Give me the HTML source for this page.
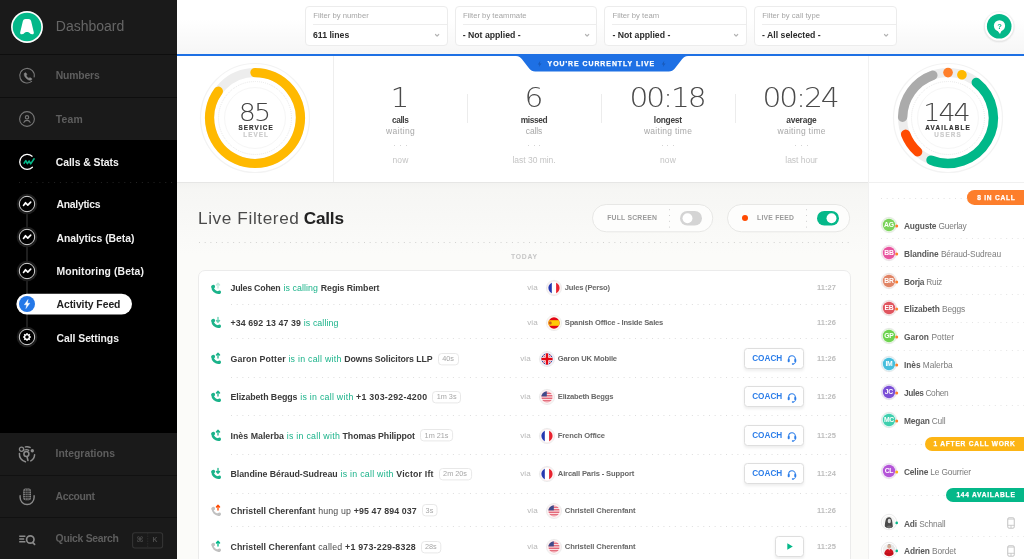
<!DOCTYPE html>
<html><head><meta charset="utf-8"><title>Activity Feed</title>
<style>
html,body{margin:0;padding:0;overflow:hidden}
body{width:1024px;height:559px;overflow:hidden;position:relative;background:#fbfbf9;font-family:"Liberation Sans", sans-serif;-webkit-font-smoothing:antialiased}
div{box-sizing:border-box}
svg{position:absolute;overflow:visible}
</style></head><body><div id="app" style="position:absolute;left:0;top:0;width:1024px;height:559px;overflow:hidden;will-change:transform">
<div id="side" style="position:absolute;left:0;top:0;width:177px;height:559px;background:#1a1a1a;overflow:hidden">
<div style="position:absolute;left:0px;top:140px;width:177px;height:293px;background:#000"></div>
<div style="position:absolute;left:0px;top:54px;width:177px;height:1px;background:#0e0e0e"></div>
<div style="position:absolute;left:0px;top:97px;width:177px;height:1px;background:#0e0e0e"></div>
<div style="position:absolute;left:0px;top:475px;width:177px;height:1px;background:#111"></div>
<div style="position:absolute;left:0px;top:517px;width:177px;height:1px;background:#111"></div>
<svg style="left:7.250px;top:6.650px" width="40" height="40" viewBox="-20 -20 40 40"><circle r="15.950" fill="#fff"/><circle r="14.300" fill="#04b889"/><path d="M-1.500-8.100H1.500C3-8.100 3.700-7.300 4.100-6L6.800 5.200C7.100 6.600 6.300 7.500 5 7.200L3.300 6.700C2.600 5.700 1.400 5.100 0 5.100S-2.600 5.700-3.300 6.700L-5 7.200C-6.300 7.500-7.100 6.600-6.800 5.200L-4.100-6C-3.700-7.300-3-8.100-1.500-8.100Z" fill="#fff"/></svg>
<div style="position:absolute;top:15.60px;line-height:20px;font-size:14px;font-weight:400;color:#666;white-space:nowrap;left:55.80px;">Dashboard</div>
<svg style="left:19px;top:68px" width="16" height="16" viewBox="0 0 16 16" fill="none" stroke="#777" stroke-width="1.1" stroke-linecap="round"><path d="M12.6 13.4A7.300 7.300 0 1 1 15.200 9"/><path d="M5.600 5.200c.5-.7 1.200-.7 1.600 0l.5.900c.2.400.1.800-.2 1.100-.3.300-.3.600 0 1 .5.700 1.100 1.300 1.800 1.800.4.300.7.300 1 0 .3-.3.700-.4 1.100-.2l.9.5c.7.400.7 1.100 0 1.600-.9.600-2 .5-3.100-.1-1.500-.9-2.700-2.100-3.500-3.500-.6-1.100-.7-2.200-.1-3.100z" fill="#888" stroke="#888" stroke-width=".5"/></svg>
<div style="position:absolute;top:65.60px;line-height:20px;font-size:10.4px;font-weight:700;color:#5e5e5e;white-space:nowrap;letter-spacing:-0.18px;left:55.80px;">Numbers</div>
<svg style="left:19px;top:111px" width="16" height="16" viewBox="0 0 16 16" fill="none" stroke="#777" stroke-width="1.1" stroke-linecap="round"><circle cx="8" cy="8" r="7.400"/><circle cx="8" cy="6.300" r="1.700"/><path d="M4.900 11.400c.5-1.500 1.700-2 3.100-2s2.600.5 3.100 2"/></svg>
<div style="position:absolute;top:109.50px;line-height:20px;font-size:10.4px;font-weight:700;color:#5e5e5e;white-space:nowrap;letter-spacing:0.201px;left:55.80px;">Team</div>
<svg style="left:19px;top:153.500px" width="16" height="16" viewBox="0 0 16 16" fill="none" stroke-linecap="round" stroke-linejoin="round"><path d="M13.100 2.200A7.500 7.500 0 1 0 13.400 13.300" stroke="#fff" stroke-width="1.300"/><path d="M5.100 9.200l1.700-2.600 1.600 3 1.700-2.600 1.600 2.900 3.400-5.100" stroke="#04b889" stroke-width="1.600"/></svg>
<div style="position:absolute;top:152.60px;line-height:20px;font-size:10.4px;font-weight:700;color:#f4f4f4;white-space:nowrap;letter-spacing:-0.048px;left:55.80px;">Calls &amp; Stats</div>
<svg style="left:18.7px;top:182px" width="158" height="1" viewBox="0 0 158 1"><path d="M0 .5H158" stroke="#242424" stroke-width="1" stroke-dasharray="1 4.85" fill="none"/></svg>
<div style="position:absolute;left:26px;top:204px;width:2px;height:134px;background:#1f1f1f"></div>
<svg style="left:16px;top:192.8px" width="22" height="22" viewBox="-3 -3 22 22"><circle cx="8" cy="8" r="10.300" fill="#1d1d1d"/><circle cx="8" cy="8" r="7.700" fill="#000" stroke="#d4d4d4" stroke-width="1"/><path d="M4.500 9.400l2-2.700 2.300 2.400 2.900-2.900" fill="none" stroke="#fff" stroke-width="1.650" stroke-linecap="round" stroke-linejoin="round"/></svg>
<div style="position:absolute;top:194.70px;line-height:20px;font-size:10.4px;font-weight:700;color:#f0f0f0;white-space:nowrap;letter-spacing:-0.28px;left:56.50px;">Analytics</div>
<svg style="left:16px;top:226.3px" width="22" height="22" viewBox="-3 -3 22 22"><circle cx="8" cy="8" r="10.300" fill="#1d1d1d"/><circle cx="8" cy="8" r="7.700" fill="#000" stroke="#d4d4d4" stroke-width="1"/><path d="M4.500 9.400l2-2.700 2.300 2.400 2.900-2.900" fill="none" stroke="#fff" stroke-width="1.650" stroke-linecap="round" stroke-linejoin="round"/></svg>
<div style="position:absolute;top:228.50px;line-height:20px;font-size:10.4px;font-weight:700;color:#f0f0f0;white-space:nowrap;letter-spacing:-0.04px;left:56.50px;">Analytics (Beta)</div>
<svg style="left:16px;top:259.8px" width="22" height="22" viewBox="-3 -3 22 22"><circle cx="8" cy="8" r="10.300" fill="#1d1d1d"/><circle cx="8" cy="8" r="7.700" fill="#000" stroke="#d4d4d4" stroke-width="1"/><path d="M4.500 9.400l2-2.700 2.300 2.400 2.900-2.900" fill="none" stroke="#fff" stroke-width="1.650" stroke-linecap="round" stroke-linejoin="round"/></svg>
<div style="position:absolute;top:261.80px;line-height:20px;font-size:10.4px;font-weight:700;color:#f0f0f0;white-space:nowrap;letter-spacing:0.089px;left:56.50px;">Monitoring (Beta)</div>
<svg style="left:16px;top:293px" width="117" height="22" viewBox="0 0 117 22"><rect x=".4" y=".7" width="115.600" height="20.800" rx="10.400" fill="#fff"/></svg>
<svg style="left:19px;top:296.3px" width="16" height="16" viewBox="0 0 16 16"><circle cx="8" cy="8" r="8" fill="#2478e8"/><path d="M9.100 3.500L5.300 8.800h2.400l-.8 3.800 3.900-5.400H8.400z" fill="#fff" stroke="#fff" stroke-width=".4" stroke-linejoin="round"/></svg>
<div style="position:absolute;top:295.30px;line-height:20px;font-size:10.4px;font-weight:700;color:#222;white-space:nowrap;letter-spacing:-0.061px;left:56.50px;">Activity Feed</div>
<svg style="left:16px;top:326.4px" width="22" height="22" viewBox="-3 -3 22 22"><circle cx="8" cy="8" r="10.300" fill="#1d1d1d"/><circle cx="8" cy="8" r="7.700" fill="#000" stroke="#d4d4d4" stroke-width="1"/><g transform="translate(8 8) scale(.78)" fill="#fff"><circle r="3.100" fill="none" stroke="#fff" stroke-width="1.700"/><rect x="-0.9" y="-5" width="1.800" height="2.200" rx=".4" transform="rotate(0)"/><rect x="-0.9" y="-5" width="1.800" height="2.200" rx=".4" transform="rotate(45)"/><rect x="-0.9" y="-5" width="1.800" height="2.200" rx=".4" transform="rotate(90)"/><rect x="-0.9" y="-5" width="1.800" height="2.200" rx=".4" transform="rotate(135)"/><rect x="-0.9" y="-5" width="1.800" height="2.200" rx=".4" transform="rotate(180)"/><rect x="-0.9" y="-5" width="1.800" height="2.200" rx=".4" transform="rotate(225)"/><rect x="-0.9" y="-5" width="1.800" height="2.200" rx=".4" transform="rotate(270)"/><rect x="-0.9" y="-5" width="1.800" height="2.200" rx=".4" transform="rotate(315)"/></g></svg>
<div style="position:absolute;top:328.90px;line-height:20px;font-size:10.4px;font-weight:700;color:#f0f0f0;white-space:nowrap;letter-spacing:-0.041px;left:56.50px;">Call Settings</div>
<svg style="left:18px;top:444.500px" width="18" height="18" viewBox="0 0 18 18" fill="none" stroke="#8c8c8c" stroke-width="1.500" stroke-linecap="round"><path d="M7.42 1.87A7.6 7.6 0 0 1 12.09 2.36"/><path d="M16.59 9.70A7.6 7.6 0 0 1 12.80 15.88"/><path d="M7.42 16.73A7.6 7.6 0 0 1 1.44 8.51"/><circle cx="3.500" cy="4.300" r="2.100" stroke-width="1.300"/><circle cx="14.300" cy="5.800" r="1.700" fill="#8c8c8c" stroke="none"/><circle cx="8.400" cy="9.100" r="2.500"/><path d="M9.100 11.800l.8 3.600" stroke-width="1.600"/><g stroke-width="1.200"><path d="M6.75 5.02A4.4 4.4 0 0 1 10.73 5.37"/></g></svg>
<div style="position:absolute;top:443.60px;line-height:20px;font-size:10.4px;font-weight:700;color:#5e5e5e;white-space:nowrap;letter-spacing:-0.011px;left:55.60px;">Integrations</div>
<svg style="left:18px;top:487px" width="18" height="20" viewBox="0 0 18 20" fill="none" stroke="#8a8a8a" stroke-width="1.400" stroke-linecap="round"><rect x="5.200" y="1.500" width="7.800" height="11.800" rx="2.400" fill="#8a8a8a" stroke="none"/><path d="M7.300 2v11M9.100 1.600v11.600M10.900 2v11M5.400 4.300h7.400M5.400 6.400h7.400M5.400 8.500h7.400M5.400 10.600h7.400" stroke="#1a1a1a" stroke-width=".7" stroke-linecap="butt"/><path d="M2.100 8.700v1.800a7 7 0 0 0 14 0v-1.800"/></svg>
<div style="position:absolute;top:487.20px;line-height:20px;font-size:10.4px;font-weight:700;color:#5e5e5e;white-space:nowrap;letter-spacing:-0.367px;left:55.60px;">Account</div>
<svg style="left:19px;top:534px" width="18" height="12" viewBox="0 0 18 12" fill="none" stroke="#8a8a8a" stroke-width="1.600"><path d="M.2 2.300h6.200M.2 5h5M.2 7.700h6.200" stroke-width="1.400"/><circle cx="11.300" cy="5.500" r="3.700" stroke-width="1.700"/><path d="M13.600 8.300l2 2" stroke-linecap="round" stroke-width="1.700"/></svg>
<div style="position:absolute;top:528.60px;line-height:20px;font-size:10.4px;font-weight:700;color:#5e5e5e;white-space:nowrap;letter-spacing:-0.28px;left:55.60px;">Quick Search</div>
<svg style="left:132px;top:532px" width="32" height="17" viewBox="0 0 32 17"><rect x=".6" y=".7" width="30" height="15.300" rx="2.200" fill="none" stroke="#343434" stroke-width="1.100"/><path d="M15.700 1v15" stroke="#2c2c2c" stroke-width="1" stroke-dasharray="1.500 1"/></svg>
<div style="position:absolute;top:530.30px;line-height:20px;font-size:7.5px;font-weight:700;color:#4e4e4e;white-space:nowrap;left:-60.10px;width:400px;text-align:center;font-family:&quot;DejaVu Sans&quot;,sans-serif;">⌘</div>
<div style="position:absolute;top:530.30px;line-height:20px;font-size:6.8px;font-weight:700;color:#4e4e4e;white-space:nowrap;left:-45.00px;width:400px;text-align:center;">K</div>
</div>
<div style="position:absolute;left:177px;top:0px;width:847px;height:54px;background:linear-gradient(180deg,#fff 0%,#fff 35%,#f6f6f6 100%)"></div>
<div style="position:absolute;left:305.0px;top:6px;width:142.5px;height:39.5px;background:#fff;border:1px solid #ececec;border-radius:4px"></div>
<div style="position:absolute;left:313.0px;top:24px;width:134px;height:1px;background:#ededed"></div>
<div style="position:absolute;top:6.20px;line-height:20px;font-size:7.7px;font-weight:400;color:#a6a6a6;white-space:nowrap;left:313.20px;">Filter by number</div>
<div style="position:absolute;top:25.00px;line-height:20px;font-size:8.7px;font-weight:700;color:#2a2a2a;white-space:nowrap;left:313.00px;">611 lines</div>
<svg style="left:435.0px;top:33.500px" width="4.200" height="2.800" viewBox="0 0 6 4" fill="none" stroke="#b4b4b4" stroke-width="1.700" stroke-linecap="round" stroke-linejoin="round"><path d="M.7.700L3 3.100 5.300.7"/></svg>
<div style="position:absolute;left:454.7px;top:6px;width:142.5px;height:39.5px;background:#fff;border:1px solid #ececec;border-radius:4px"></div>
<div style="position:absolute;left:462.7px;top:24px;width:134px;height:1px;background:#ededed"></div>
<div style="position:absolute;top:6.20px;line-height:20px;font-size:7.7px;font-weight:400;color:#a6a6a6;white-space:nowrap;left:462.90px;">Filter by teammate</div>
<div style="position:absolute;top:25.00px;line-height:20px;font-size:8.7px;font-weight:700;color:#2a2a2a;white-space:nowrap;left:462.70px;">- Not applied -</div>
<svg style="left:584.7px;top:33.500px" width="4.200" height="2.800" viewBox="0 0 6 4" fill="none" stroke="#b4b4b4" stroke-width="1.700" stroke-linecap="round" stroke-linejoin="round"><path d="M.7.700L3 3.100 5.300.7"/></svg>
<div style="position:absolute;left:604.4px;top:6px;width:142.5px;height:39.5px;background:#fff;border:1px solid #ececec;border-radius:4px"></div>
<div style="position:absolute;left:612.4px;top:24px;width:134px;height:1px;background:#ededed"></div>
<div style="position:absolute;top:6.20px;line-height:20px;font-size:7.7px;font-weight:400;color:#a6a6a6;white-space:nowrap;left:612.60px;">Filter by team</div>
<div style="position:absolute;top:25.00px;line-height:20px;font-size:8.7px;font-weight:700;color:#2a2a2a;white-space:nowrap;left:612.40px;">- Not applied -</div>
<svg style="left:734.4px;top:33.500px" width="4.200" height="2.800" viewBox="0 0 6 4" fill="none" stroke="#b4b4b4" stroke-width="1.700" stroke-linecap="round" stroke-linejoin="round"><path d="M.7.700L3 3.100 5.300.7"/></svg>
<div style="position:absolute;left:754.0999999999999px;top:6px;width:142.5px;height:39.5px;background:#fff;border:1px solid #ececec;border-radius:4px"></div>
<div style="position:absolute;left:762.0999999999999px;top:24px;width:134px;height:1px;background:#ededed"></div>
<div style="position:absolute;top:6.20px;line-height:20px;font-size:7.7px;font-weight:400;color:#a6a6a6;white-space:nowrap;left:762.30px;">Filter by call type</div>
<div style="position:absolute;top:25.00px;line-height:20px;font-size:8.7px;font-weight:700;color:#2a2a2a;white-space:nowrap;left:762.10px;">- All selected -</div>
<svg style="left:884.0999999999999px;top:33.500px" width="4.200" height="2.800" viewBox="0 0 6 4" fill="none" stroke="#b4b4b4" stroke-width="1.700" stroke-linecap="round" stroke-linejoin="round"><path d="M.7.700L3 3.100 5.300.7"/></svg>
<svg style="left:983px;top:10px" width="32" height="32" viewBox="0 0 32 32"><circle cx="16.200" cy="17" r="16.200" fill="#000" opacity=".025"/><circle cx="16.200" cy="16.800" r="15.400" fill="#000" opacity=".05"/><circle cx="16.200" cy="16.300" r="14.300" fill="#fff"/><circle cx="16.200" cy="16.300" r="12.300" fill="#04b889"/><circle cx="16.500" cy="15.800" r="5.600" fill="#fff"/><path d="M14.400 20.500L17 23.900 18.600 20.500z" fill="#fff"/><text x="16.600" y="18.500" font-size="7.600" font-weight="700" fill="#04b889" text-anchor="middle" font-family="Liberation Sans, sans-serif">?</text></svg>
<div style="position:absolute;left:177px;top:56px;width:847px;height:126px;background:#fff"></div>
<div style="position:absolute;left:177px;top:182px;width:692px;height:1px;background:#e6e6e5"></div>
<div style="position:absolute;left:177px;top:183px;width:692px;height:70px;background:linear-gradient(180deg,#f3f3f1 0%,#f6f6f4 10%,#fbfbf9 100%)"></div>
<div style="position:absolute;left:177px;top:54px;width:847px;height:2px;background:#1e70e4"></div>
<svg style="left:515px;top:55.500px" width="174" height="17" viewBox="515 55.500 174 17"><path d="M515 55.500H688c-3 .3-4.500 1.300-6 3.300l-7.200 9.200c-1.600 2.100-3.400 3-6 3H535.200c-2.600 0-4.400-.9-6-3l-7.200-9.200c-1.500-2-3-3-6-3.300z" fill="#1e70e4"/><path d="M540.300 60.300l-2.500 3.600h1.600l-.5 2.700 2.600-3.700h-1.700z" fill="#1859b8"/><path d="M664.300 60.300l-2.500 3.600h1.600l-.5 2.700 2.600-3.700h-1.700z" fill="#1859b8"/></svg>
<div style="position:absolute;top:53.50px;line-height:20px;font-size:6.9px;font-weight:700;color:#fff;white-space:nowrap;letter-spacing:0.98px;left:401.40px;width:400px;text-align:center;-webkit-text-stroke:.25px #fff;">YOU'RE CURRENTLY LIVE</div>
<div style="position:absolute;left:333px;top:56px;width:1px;height:126px;background:#eeeeee"></div>
<div style="position:absolute;left:868px;top:56px;width:1px;height:503px;background:#f1f1f1"></div>
<div style="position:absolute;left:467px;top:94px;width:1px;height:29px;background:#ececec"></div>
<div style="position:absolute;left:601px;top:94px;width:1px;height:29px;background:#ececec"></div>
<div style="position:absolute;left:735px;top:94px;width:1px;height:29px;background:#ececec"></div>
<svg style="left:195px;top:57.900000000000006px" width="120" height="120" viewBox="195 57.900000000000006 120 120"><circle cx="255" cy="117.9" r="54.500" fill="none" stroke="#f3f3f3" stroke-width="1.200"/><circle cx="255" cy="117.9" r="45.4" fill="none" stroke="#ededed" stroke-width="9"/><circle cx="255" cy="117.9" r="36.500" fill="none" stroke="#e4e4e4" stroke-width="1" stroke-dasharray="0.8 1.200"/><circle cx="255" cy="117.9" r="30.500" fill="none" stroke="#f6f6f6" stroke-width="1"/><path d="M255.00 72.50A45.4 45.4 0 1 1 218.27 91.21" fill="none" stroke="#ffb900" stroke-width="9.4" stroke-linecap="round"/></svg>
<div style="position:absolute;top:98.00px;line-height:30px;font-size:24.5px;font-weight:200;color:#444;white-space:nowrap;left:53.70px;width:400px;text-align:center;font-family:&quot;DejaVu Sans&quot;,sans-serif;font-weight:200;letter-spacing:-1.800px;transform:scaleX(1.1);">85</div>
<div style="position:absolute;top:117.80px;line-height:20px;font-size:6.3px;font-weight:700;color:#333;white-space:nowrap;letter-spacing:1.1px;left:55.50px;width:400px;text-align:center;padding-left:1.200px;-webkit-text-stroke:.2px currentColor;">SERVICE</div>
<div style="position:absolute;top:124.90px;line-height:20px;font-size:6.3px;font-weight:700;color:#cbcbcb;white-space:nowrap;letter-spacing:1.1px;left:55.50px;width:400px;text-align:center;padding-left:1.200px;-webkit-text-stroke:.2px currentColor;">LEVEL</div>
<svg style="left:888px;top:57.900000000000006px" width="120" height="120" viewBox="888 57.900000000000006 120 120"><circle cx="948" cy="117.9" r="54.500" fill="none" stroke="#f3f3f3" stroke-width="1.200"/><circle cx="948" cy="117.9" r="45.4" fill="none" stroke="#ededed" stroke-width="9"/><circle cx="948" cy="117.9" r="36.500" fill="none" stroke="#e4e4e4" stroke-width="1" stroke-dasharray="0.8 1.200"/><circle cx="948" cy="117.9" r="30.500" fill="none" stroke="#f6f6f6" stroke-width="1"/><path d="M948.00 72.50A45.4 45.4 0 0 1 948.08 72.50" fill="none" stroke="#ff7f2a" stroke-width="9.6" stroke-linecap="round"/><path d="M961.88 74.67A45.4 45.4 0 0 1 961.95 74.70" fill="none" stroke="#ffb900" stroke-width="9.6" stroke-linecap="round"/><path d="M976.26 82.37A45.4 45.4 0 0 1 930.99 159.99" fill="none" stroke="#00b889" stroke-width="9.4" stroke-linecap="round"/><path d="M917.62 151.64A45.4 45.4 0 0 1 905.62 134.17" fill="none" stroke="#ff4a00" stroke-width="9.4" stroke-linecap="round"/><path d="M902.61 117.11A45.4 45.4 0 0 1 932.85 75.10" fill="none" stroke="#ababab" stroke-width="9.4" stroke-linecap="round"/></svg>
<div style="position:absolute;top:97.70px;line-height:30px;font-size:24.5px;font-weight:200;color:#444;white-space:nowrap;left:745.50px;width:400px;text-align:center;font-family:&quot;DejaVu Sans&quot;,sans-serif;font-weight:200;letter-spacing:-1.800px;transform:scaleX(1.1);">144</div>
<div style="position:absolute;top:118.00px;line-height:20px;font-size:6.3px;font-weight:700;color:#333;white-space:nowrap;letter-spacing:1.15px;left:747.50px;width:400px;text-align:center;padding-left:1.200px;-webkit-text-stroke:.2px currentColor;">AVAILABLE</div>
<div style="position:absolute;top:125.00px;line-height:20px;font-size:6.3px;font-weight:700;color:#cbcbcb;white-space:nowrap;letter-spacing:1.2px;left:747.50px;width:400px;text-align:center;padding-left:1.200px;-webkit-text-stroke:.2px currentColor;">USERS</div>
<div style="position:absolute;top:79.60px;line-height:36px;font-size:27px;font-weight:200;color:#4a4a4a;white-space:nowrap;left:200.40px;width:400px;text-align:center;font-family:&quot;DejaVu Sans&quot;,sans-serif;font-weight:200;letter-spacing:0px;transform:scaleX(1.1);">1</div>
<div style="position:absolute;top:109.60px;line-height:20px;font-size:8.4px;font-weight:700;color:#404040;white-space:nowrap;letter-spacing:-0.421px;left:200.19px;width:400px;text-align:center;">calls</div>
<div style="position:absolute;top:120.50px;line-height:20px;font-size:8.5px;font-weight:400;color:#a8a8a8;white-space:nowrap;letter-spacing:0.374px;left:200.59px;width:400px;text-align:center;">waiting</div>
<div style="position:absolute;left:394.2px;top:144.6px;width:1px;height:1px;background:#d4d4d4"></div>
<div style="position:absolute;left:399.9px;top:144.6px;width:1px;height:1px;background:#d4d4d4"></div>
<div style="position:absolute;left:405.59999999999997px;top:144.6px;width:1px;height:1px;background:#d4d4d4"></div>
<div style="position:absolute;top:149.90px;line-height:20px;font-size:8.5px;font-weight:400;color:#c4c4c4;white-space:nowrap;letter-spacing:0.203px;left:200.50px;width:400px;text-align:center;">now</div>
<div style="position:absolute;top:79.60px;line-height:36px;font-size:27px;font-weight:200;color:#4a4a4a;white-space:nowrap;left:334.10px;width:400px;text-align:center;font-family:&quot;DejaVu Sans&quot;,sans-serif;font-weight:200;letter-spacing:0px;transform:scaleX(1.1);">6</div>
<div style="position:absolute;top:109.60px;line-height:20px;font-size:8.4px;font-weight:700;color:#404040;white-space:nowrap;letter-spacing:-0.41px;left:333.90px;width:400px;text-align:center;">missed</div>
<div style="position:absolute;top:120.50px;line-height:20px;font-size:8.5px;font-weight:400;color:#a8a8a8;white-space:nowrap;letter-spacing:-0.126px;left:334.04px;width:400px;text-align:center;">calls</div>
<div style="position:absolute;left:527.9px;top:144.6px;width:1px;height:1px;background:#d4d4d4"></div>
<div style="position:absolute;left:533.6px;top:144.6px;width:1px;height:1px;background:#d4d4d4"></div>
<div style="position:absolute;left:539.3000000000001px;top:144.6px;width:1px;height:1px;background:#d4d4d4"></div>
<div style="position:absolute;top:149.90px;line-height:20px;font-size:8.5px;font-weight:400;color:#c4c4c4;white-space:nowrap;letter-spacing:-0.024px;left:334.09px;width:400px;text-align:center;">last 30 min.</div>
<div style="position:absolute;top:79.60px;line-height:36px;font-size:27px;font-weight:200;color:#4a4a4a;white-space:nowrap;left:466.86px;width:400px;text-align:center;font-family:&quot;DejaVu Sans&quot;,sans-serif;font-weight:200;letter-spacing:-1.9px;transform:scaleX(1.1);">00:18</div>
<div style="position:absolute;top:109.60px;line-height:20px;font-size:8.4px;font-weight:700;color:#404040;white-space:nowrap;letter-spacing:-0.278px;left:467.76px;width:400px;text-align:center;">longest</div>
<div style="position:absolute;top:120.50px;line-height:20px;font-size:8.5px;font-weight:400;color:#a8a8a8;white-space:nowrap;letter-spacing:0.284px;left:468.04px;width:400px;text-align:center;">waiting time</div>
<div style="position:absolute;left:661.6999999999999px;top:144.6px;width:1px;height:1px;background:#d4d4d4"></div>
<div style="position:absolute;left:667.4px;top:144.6px;width:1px;height:1px;background:#d4d4d4"></div>
<div style="position:absolute;left:673.1px;top:144.6px;width:1px;height:1px;background:#d4d4d4"></div>
<div style="position:absolute;top:149.90px;line-height:20px;font-size:8.5px;font-weight:400;color:#c4c4c4;white-space:nowrap;letter-spacing:0.153px;left:467.98px;width:400px;text-align:center;">now</div>
<div style="position:absolute;top:79.60px;line-height:36px;font-size:27px;font-weight:200;color:#4a4a4a;white-space:nowrap;left:600.46px;width:400px;text-align:center;font-family:&quot;DejaVu Sans&quot;,sans-serif;font-weight:200;letter-spacing:-1.9px;transform:scaleX(1.1);">00:24</div>
<div style="position:absolute;top:109.60px;line-height:20px;font-size:8.4px;font-weight:700;color:#404040;white-space:nowrap;letter-spacing:-0.193px;left:601.40px;width:400px;text-align:center;">average</div>
<div style="position:absolute;top:120.50px;line-height:20px;font-size:8.5px;font-weight:400;color:#a8a8a8;white-space:nowrap;letter-spacing:0.284px;left:601.64px;width:400px;text-align:center;">waiting time</div>
<div style="position:absolute;left:795.3px;top:144.6px;width:1px;height:1px;background:#d4d4d4"></div>
<div style="position:absolute;left:801.0px;top:144.6px;width:1px;height:1px;background:#d4d4d4"></div>
<div style="position:absolute;left:806.7px;top:144.6px;width:1px;height:1px;background:#d4d4d4"></div>
<div style="position:absolute;top:149.90px;line-height:20px;font-size:8.5px;font-weight:400;color:#c4c4c4;white-space:nowrap;letter-spacing:-0.025px;left:601.49px;width:400px;text-align:center;">last hour</div>
<div style="position:absolute;left:198.00px;top:204.30px;line-height:28px;font-size:17.2px;font-weight:400;color:#4a4a4a;white-space:nowrap;letter-spacing:0.609px">Live Filtered</div>
<div style="position:absolute;left:303.80px;top:204.30px;line-height:28px;font-size:17.2px;font-weight:700;color:#222;white-space:nowrap;letter-spacing:-0.228px">Calls</div>
<svg style="left:592px;top:204px" width="121.3" height="29" viewBox="0 0 121.3 29"><rect x=".5" y=".5" width="120.3" height="27.300" rx="13.650" fill="#fdfdfc" stroke="#e7e7e5"/></svg>
<div style="position:absolute;top:207.80px;line-height:20px;font-size:6.8px;font-weight:700;color:#9a9a9a;white-space:nowrap;letter-spacing:0.23px;left:607.20px;">FULL SCREEN</div>
<svg style="left:669px;top:209px" width="1" height="20" viewBox="0 0 1 20"><path d="M.5 .2V20" stroke="#cfcfcf" stroke-width="1" stroke-dasharray="1 4.800" fill="none"/></svg>
<svg style="left:680px;top:210.900px" width="22" height="15" viewBox="0 0 22 15"><rect width="22" height="14.500" rx="7.250" fill="#d4d4d4"/><circle cx="7.5" cy="7.250" r="4.950" fill="#fff"/></svg>
<svg style="left:727.2px;top:204px" width="123.2" height="29" viewBox="0 0 123.2 29"><rect x=".5" y=".5" width="122.2" height="27.300" rx="13.650" fill="#fdfdfc" stroke="#e7e7e5"/></svg>
<div style="position:absolute;left:742.2px;top:215.2px;width:5.8px;height:5.8px;background:#ff4a00;border-radius:3px"></div>
<div style="position:absolute;top:207.80px;line-height:20px;font-size:6.8px;font-weight:700;color:#9a9a9a;white-space:nowrap;letter-spacing:0.23px;left:757.00px;">LIVE FEED</div>
<svg style="left:805.7px;top:209px" width="1" height="20" viewBox="0 0 1 20"><path d="M.5 .2V20" stroke="#cfcfcf" stroke-width="1" stroke-dasharray="1 4.800" fill="none"/></svg>
<svg style="left:816.9px;top:210.900px" width="22" height="15" viewBox="0 0 22 15"><rect width="22" height="14.500" rx="7.250" fill="#04b889"/><circle cx="14.5" cy="7.250" r="4.950" fill="#fff"/></svg>
<svg style="left:198.5px;top:242px" width="651" height="1" viewBox="0 0 651 1"><path d="M0 .5H651" stroke="#d2d2d0" stroke-width="1" stroke-dasharray="1 4.69" fill="none"/></svg>
<div style="position:absolute;top:247.10px;line-height:20px;font-size:6.8px;font-weight:700;color:#c6c6c6;white-space:nowrap;letter-spacing:0.75px;left:324.00px;width:400px;text-align:center;padding-left:.7px;">TODAY</div>
<div style="position:absolute;left:197.5px;top:270px;width:653.5px;height:300px;background:#fff;border:1px solid #ebebeb;border-radius:7px"></div>
<svg style="left:230.5px;top:304px" width="618" height="1" viewBox="0 0 618 1"><path d="M0 .5H618" stroke="#dedede" stroke-width="1" stroke-dasharray="1 4.69" fill="none"/></svg>
<svg style="left:230.5px;top:338px" width="618" height="1" viewBox="0 0 618 1"><path d="M0 .5H618" stroke="#dedede" stroke-width="1" stroke-dasharray="1 4.69" fill="none"/></svg>
<svg style="left:230.5px;top:377px" width="618" height="1" viewBox="0 0 618 1"><path d="M0 .5H618" stroke="#dedede" stroke-width="1" stroke-dasharray="1 4.69" fill="none"/></svg>
<svg style="left:230.5px;top:415px" width="618" height="1" viewBox="0 0 618 1"><path d="M0 .5H618" stroke="#dedede" stroke-width="1" stroke-dasharray="1 4.69" fill="none"/></svg>
<svg style="left:230.5px;top:454px" width="618" height="1" viewBox="0 0 618 1"><path d="M0 .5H618" stroke="#dedede" stroke-width="1" stroke-dasharray="1 4.69" fill="none"/></svg>
<svg style="left:230.5px;top:493px" width="618" height="1" viewBox="0 0 618 1"><path d="M0 .5H618" stroke="#dedede" stroke-width="1" stroke-dasharray="1 4.69" fill="none"/></svg>
<svg style="left:230.5px;top:526px" width="618" height="1" viewBox="0 0 618 1"><path d="M0 .5H618" stroke="#dedede" stroke-width="1" stroke-dasharray="1 4.69" fill="none"/></svg>
<svg style="left:210.0px;top:280.5px" width="12" height="14" viewBox="0 0 12 14"><path d="M2.600 5.700C2.500 9 5.300 11.800 9.200 11.700" fill="none" stroke="#1bb38a" stroke-width="2.5" stroke-linecap="round"/><ellipse cx="3.200" cy="5.700" rx="1.900" ry="1.750" fill="#1bb38a" transform="rotate(-20 3.200 5.700)"/><ellipse cx="9.100" cy="11.300" rx="1.950" ry="1.700" fill="#1bb38a" transform="rotate(-15 9.100 11.300)"/><path d="M8 7.100V2.600M6.400 4L8 2.300 9.600 4" fill="none" stroke="#bfe9dc" stroke-width="1.300" stroke-linecap="round" stroke-linejoin="round"/></svg>
<div style="position:absolute;left:230.50px;top:277.90px;line-height:20px;font-size:8.8px;font-weight:700;color:#3a3a3a;white-space:nowrap;letter-spacing:-0.222px">Jules Cohen</div>
<div style="position:absolute;left:283.40px;top:277.90px;line-height:20px;font-size:8.8px;font-weight:400;color:#1bb38a;white-space:nowrap;letter-spacing:0.095px">is calling</div>
<div style="position:absolute;left:320.80px;top:277.90px;line-height:20px;font-size:8.8px;font-weight:700;color:#3a3a3a;white-space:nowrap;letter-spacing:-0.080px">Regis Rimbert</div>
<div style="position:absolute;top:277.90px;line-height:20px;font-size:8.1px;font-weight:400;color:#b8b8b8;white-space:nowrap;left:527.30px;">via</div>
<svg style="left:545.6px;top:280.3px" width="16" height="16" viewBox="-8 -8 16 16"><circle r="7.600" fill="#fff" stroke="#e9e9e9" stroke-width=".8"/><circle r="6.700" fill="none" stroke="#c33" stroke-width=".6" opacity=".13"/><clipPath id="fc553_288"><circle r="5.650"/></clipPath><g clip-path="url(#fc553_288)"><rect x="-6" y="-6" width="3.900" height="12" fill="#2438b0"/><rect x="-2.100" y="-6" width="4.200" height="12" fill="#fff"/><rect x="2.100" y="-6" width="3.900" height="12" fill="#e8222e"/></g></svg>
<div style="position:absolute;left:564.80px;top:277.90px;line-height:20px;font-size:7.6px;font-weight:700;color:#686868;white-space:nowrap;letter-spacing:-0.203px">Jules (Perso)</div>
<div style="position:absolute;top:277.90px;line-height:20px;font-size:7.5px;font-weight:700;color:#bdbdbd;white-space:nowrap;left:817.10px;">11:27</div>
<svg style="left:210.0px;top:314.7px" width="12" height="14" viewBox="0 0 12 14"><path d="M2.600 5.700C2.500 9 5.300 11.800 9.200 11.700" fill="none" stroke="#1bb38a" stroke-width="2.5" stroke-linecap="round"/><ellipse cx="3.200" cy="5.700" rx="1.900" ry="1.750" fill="#1bb38a" transform="rotate(-20 3.200 5.700)"/><ellipse cx="9.100" cy="11.300" rx="1.950" ry="1.700" fill="#1bb38a" transform="rotate(-15 9.100 11.300)"/><path d="M8 2.300v4.600M6.400 5.500L8 7.200 9.600 5.500" fill="none" stroke="#5fcfb0" stroke-width="1.300" stroke-linecap="round" stroke-linejoin="round"/></svg>
<div style="position:absolute;left:230.50px;top:313.10px;line-height:20px;font-size:8.8px;font-weight:700;color:#3a3a3a;white-space:nowrap;letter-spacing:0.116px">+34 692 13 47 39</div>
<div style="position:absolute;left:303.80px;top:313.10px;line-height:20px;font-size:8.8px;font-weight:400;color:#1bb38a;white-space:nowrap;letter-spacing:0.095px">is calling</div>
<div style="position:absolute;top:313.10px;line-height:20px;font-size:8.1px;font-weight:400;color:#b8b8b8;white-space:nowrap;left:527.30px;">via</div>
<svg style="left:545.6px;top:314.5px" width="16" height="16" viewBox="-8 -8 16 16"><circle r="7.600" fill="#fff" stroke="#e9e9e9" stroke-width=".8"/><circle r="6.700" fill="none" stroke="#e8a000" stroke-width=".6" opacity=".13"/><clipPath id="fc553_322"><circle r="5.650"/></clipPath><g clip-path="url(#fc553_322)"><rect x="-6" y="-6" width="12" height="12" fill="#e30613"/><rect x="-6" y="-2.800" width="12" height="5.600" fill="#ffcb05"/><rect x="-5.200" y="-1.500" width="2.800" height="3" rx="1" fill="#c8601a"/></g></svg>
<div style="position:absolute;left:564.80px;top:313.10px;line-height:20px;font-size:7.6px;font-weight:700;color:#686868;white-space:nowrap;letter-spacing:-0.189px">Spanish Office - Inside Sales</div>
<div style="position:absolute;top:313.10px;line-height:20px;font-size:7.5px;font-weight:700;color:#bdbdbd;white-space:nowrap;left:817.10px;">11:26</div>
<svg style="left:210.0px;top:351.0px" width="12" height="14" viewBox="0 0 12 14"><path d="M2.600 5.700C2.500 9 5.300 11.800 9.200 11.700" fill="none" stroke="#1bb38a" stroke-width="2.5" stroke-linecap="round"/><ellipse cx="3.200" cy="5.700" rx="1.900" ry="1.750" fill="#1bb38a" transform="rotate(-20 3.200 5.700)"/><ellipse cx="9.100" cy="11.300" rx="1.950" ry="1.700" fill="#1bb38a" transform="rotate(-15 9.100 11.300)"/><path d="M8 7.100V2.600M6.400 4L8 2.300 9.600 4" fill="none" stroke="#1bb38a" stroke-width="1.300" stroke-linecap="round" stroke-linejoin="round"/></svg>
<div style="position:absolute;left:230.50px;top:349.40px;line-height:20px;font-size:8.8px;font-weight:700;color:#3a3a3a;white-space:nowrap;letter-spacing:0.120px">Garon Potter</div>
<div style="position:absolute;left:288.40px;top:349.40px;line-height:20px;font-size:8.8px;font-weight:400;color:#1bb38a;white-space:nowrap;letter-spacing:0.258px">is in call with</div>
<div style="position:absolute;left:344.20px;top:349.40px;line-height:20px;font-size:8.8px;font-weight:700;color:#3a3a3a;white-space:nowrap;letter-spacing:-0.108px">Downs Solicitors LLP</div>
<svg style="left:437.6px;top:352.6px" width="21" height="13" viewBox="0 0 21 13"><rect x=".5" y=".5" width="20" height="11.400" rx="3.200" fill="#fff" stroke="#e8e8e8"/></svg>
<div style="position:absolute;top:349.30px;line-height:20px;font-size:7.3px;font-weight:400;color:#a6a6a6;white-space:nowrap;left:248.10px;width:400px;text-align:center;">40s</div>
<div style="position:absolute;top:349.40px;line-height:20px;font-size:8.1px;font-weight:400;color:#b8b8b8;white-space:nowrap;left:520.30px;">via</div>
<svg style="left:538.6px;top:350.8px" width="16" height="16" viewBox="-8 -8 16 16"><circle r="7.600" fill="#fff" stroke="#e9e9e9" stroke-width=".8"/><circle r="6.700" fill="none" stroke="#33a" stroke-width=".6" opacity=".13"/><clipPath id="fc546_358"><circle r="5.650"/></clipPath><g clip-path="url(#fc546_358)"><rect x="-6" y="-6" width="12" height="12" fill="#2a3c9a"/><path d="M-6-6L6 6M6-6L-6 6" stroke="#fff" stroke-width="1.800"/><path d="M-6-6L6 6M6-6L-6 6" stroke="#e30613" stroke-width=".6"/><path d="M0-6V6M-6 0H6" stroke="#fff" stroke-width="3.900"/><path d="M0-6V6M-6 0H6" stroke="#e30613" stroke-width="2.500"/></g></svg>
<div style="position:absolute;left:557.80px;top:349.40px;line-height:20px;font-size:7.6px;font-weight:700;color:#686868;white-space:nowrap;letter-spacing:-0.168px">Garon UK Mobile</div>
<div style="position:absolute;left:744px;top:348.0px;width:60px;height:21px;background:#fff;border:1px solid #dedede;border-radius:3.500px;box-shadow:0 1.500px 3px rgba(0,0,0,.07)"></div>
<div style="position:absolute;top:348.80px;line-height:20px;font-size:8.2px;font-weight:700;color:#2b7de9;white-space:nowrap;left:752.20px;">COACH</div>
<svg style="left:787.3px;top:355.0px" width="10" height="10" viewBox="-5 -5 10 10" fill="none" stroke="#2b7de9" stroke-width="1.100" stroke-linecap="round"><path d="M-3.300 0V-.9a3.300 3.300 0 0 1 6.600 0V0"/><rect x="-4.300" y="-1.100" width="2" height="3.300" rx=".9" fill="#2b7de9" stroke="none"/><rect x="2.300" y="-1.100" width="2" height="3.300" rx=".9" fill="#2b7de9" stroke="none"/><path d="M3.400 2.100c0 1.200-.9 1.900-2.200 1.900" stroke-width=".9"/><rect x="-.2" y="3.200" width="2" height="1.500" rx=".7" fill="#2b7de9" stroke="none"/></svg>
<div style="position:absolute;top:349.40px;line-height:20px;font-size:7.5px;font-weight:700;color:#bdbdbd;white-space:nowrap;left:817.10px;">11:26</div>
<svg style="left:210.0px;top:389.3px" width="12" height="14" viewBox="0 0 12 14"><path d="M2.600 5.700C2.500 9 5.300 11.800 9.200 11.700" fill="none" stroke="#1bb38a" stroke-width="2.5" stroke-linecap="round"/><ellipse cx="3.200" cy="5.700" rx="1.900" ry="1.750" fill="#1bb38a" transform="rotate(-20 3.200 5.700)"/><ellipse cx="9.100" cy="11.300" rx="1.950" ry="1.700" fill="#1bb38a" transform="rotate(-15 9.100 11.300)"/><path d="M8 7.100V2.600M6.400 4L8 2.300 9.600 4" fill="none" stroke="#1bb38a" stroke-width="1.300" stroke-linecap="round" stroke-linejoin="round"/></svg>
<div style="position:absolute;left:230.50px;top:386.70px;line-height:20px;font-size:8.8px;font-weight:700;color:#3a3a3a;white-space:nowrap;letter-spacing:-0.069px">Elizabeth Beggs</div>
<div style="position:absolute;left:300.30px;top:386.70px;line-height:20px;font-size:8.8px;font-weight:400;color:#1bb38a;white-space:nowrap;letter-spacing:0.258px">is in call with</div>
<div style="position:absolute;left:356.10px;top:386.70px;line-height:20px;font-size:8.8px;font-weight:700;color:#3a3a3a;white-space:nowrap;letter-spacing:0.266px">+1 303-292-4200</div>
<svg style="left:432.1px;top:391.4px" width="29" height="13" viewBox="0 0 29 13"><rect x=".5" y=".5" width="28" height="11.400" rx="3.200" fill="#fff" stroke="#e8e8e8"/></svg>
<div style="position:absolute;top:386.60px;line-height:20px;font-size:7.3px;font-weight:400;color:#a6a6a6;white-space:nowrap;left:246.60px;width:400px;text-align:center;">1m 3s</div>
<div style="position:absolute;top:386.70px;line-height:20px;font-size:8.1px;font-weight:400;color:#b8b8b8;white-space:nowrap;left:520.30px;">via</div>
<svg style="left:538.6px;top:389.1px" width="16" height="16" viewBox="-8 -8 16 16"><circle r="7.600" fill="#fff" stroke="#e9e9e9" stroke-width=".8"/><circle r="6.700" fill="none" stroke="#c33" stroke-width=".6" opacity=".13"/><clipPath id="fc546_397"><circle r="5.650"/></clipPath><g clip-path="url(#fc546_397)"><rect x="-6" y="-6" width="12" height="12" fill="#fff"/><rect x="-6" y="-5.40" width="12" height=".83" fill="#dc3c50"/><rect x="-6" y="-3.74" width="12" height=".83" fill="#dc3c50"/><rect x="-6" y="-2.08" width="12" height=".83" fill="#dc3c50"/><rect x="-6" y="-0.42" width="12" height=".83" fill="#dc3c50"/><rect x="-6" y="1.24" width="12" height=".83" fill="#dc3c50"/><rect x="-6" y="2.90" width="12" height=".83" fill="#dc3c50"/><rect x="-6" y="4.56" width="12" height=".83" fill="#dc3c50"/><rect x="-6" y="-6" width="5.800" height="5.400" fill="#3f4b8a"/></g></svg>
<div style="position:absolute;left:557.80px;top:386.70px;line-height:20px;font-size:7.6px;font-weight:700;color:#686868;white-space:nowrap;letter-spacing:-0.221px">Elizabeth Beggs</div>
<div style="position:absolute;left:744px;top:386.3px;width:60px;height:21px;background:#fff;border:1px solid #dedede;border-radius:3.500px;box-shadow:0 1.500px 3px rgba(0,0,0,.07)"></div>
<div style="position:absolute;top:387.10px;line-height:20px;font-size:8.2px;font-weight:700;color:#2b7de9;white-space:nowrap;left:752.20px;">COACH</div>
<svg style="left:787.3px;top:393.3px" width="10" height="10" viewBox="-5 -5 10 10" fill="none" stroke="#2b7de9" stroke-width="1.100" stroke-linecap="round"><path d="M-3.300 0V-.9a3.300 3.300 0 0 1 6.600 0V0"/><rect x="-4.300" y="-1.100" width="2" height="3.300" rx=".9" fill="#2b7de9" stroke="none"/><rect x="2.300" y="-1.100" width="2" height="3.300" rx=".9" fill="#2b7de9" stroke="none"/><path d="M3.400 2.100c0 1.200-.9 1.900-2.200 1.900" stroke-width=".9"/><rect x="-.2" y="3.200" width="2" height="1.500" rx=".7" fill="#2b7de9" stroke="none"/></svg>
<div style="position:absolute;top:386.70px;line-height:20px;font-size:7.5px;font-weight:700;color:#bdbdbd;white-space:nowrap;left:817.10px;">11:26</div>
<svg style="left:210.0px;top:427.8px" width="12" height="14" viewBox="0 0 12 14"><path d="M2.600 5.700C2.500 9 5.300 11.800 9.200 11.700" fill="none" stroke="#1bb38a" stroke-width="2.5" stroke-linecap="round"/><ellipse cx="3.200" cy="5.700" rx="1.900" ry="1.750" fill="#1bb38a" transform="rotate(-20 3.200 5.700)"/><ellipse cx="9.100" cy="11.300" rx="1.950" ry="1.700" fill="#1bb38a" transform="rotate(-15 9.100 11.300)"/><path d="M8 7.100V2.600M6.400 4L8 2.300 9.600 4" fill="none" stroke="#1bb38a" stroke-width="1.300" stroke-linecap="round" stroke-linejoin="round"/></svg>
<div style="position:absolute;left:230.50px;top:426.20px;line-height:20px;font-size:8.8px;font-weight:700;color:#3a3a3a;white-space:nowrap;letter-spacing:0.017px">Inès Malerba</div>
<div style="position:absolute;left:286.80px;top:426.20px;line-height:20px;font-size:8.8px;font-weight:400;color:#1bb38a;white-space:nowrap;letter-spacing:0.258px">is in call with</div>
<div style="position:absolute;left:342.60px;top:426.20px;line-height:20px;font-size:8.8px;font-weight:700;color:#3a3a3a;white-space:nowrap;letter-spacing:-0.095px">Thomas Philippot</div>
<svg style="left:420.0px;top:429.4px" width="33.1" height="13" viewBox="0 0 33.1 13"><rect x=".5" y=".5" width="32.1" height="11.400" rx="3.200" fill="#fff" stroke="#e8e8e8"/></svg>
<div style="position:absolute;top:426.10px;line-height:20px;font-size:7.3px;font-weight:400;color:#a6a6a6;white-space:nowrap;left:236.55px;width:400px;text-align:center;">1m 21s</div>
<div style="position:absolute;top:426.20px;line-height:20px;font-size:8.1px;font-weight:400;color:#b8b8b8;white-space:nowrap;left:520.30px;">via</div>
<svg style="left:538.6px;top:427.6px" width="16" height="16" viewBox="-8 -8 16 16"><circle r="7.600" fill="#fff" stroke="#e9e9e9" stroke-width=".8"/><circle r="6.700" fill="none" stroke="#c33" stroke-width=".6" opacity=".13"/><clipPath id="fc546_435"><circle r="5.650"/></clipPath><g clip-path="url(#fc546_435)"><rect x="-6" y="-6" width="3.900" height="12" fill="#2438b0"/><rect x="-2.100" y="-6" width="4.200" height="12" fill="#fff"/><rect x="2.100" y="-6" width="3.900" height="12" fill="#e8222e"/></g></svg>
<div style="position:absolute;left:557.80px;top:426.20px;line-height:20px;font-size:7.6px;font-weight:700;color:#686868;white-space:nowrap;letter-spacing:-0.141px">French Office</div>
<div style="position:absolute;left:744px;top:424.8px;width:60px;height:21px;background:#fff;border:1px solid #dedede;border-radius:3.500px;box-shadow:0 1.500px 3px rgba(0,0,0,.07)"></div>
<div style="position:absolute;top:425.60px;line-height:20px;font-size:8.2px;font-weight:700;color:#2b7de9;white-space:nowrap;left:752.20px;">COACH</div>
<svg style="left:787.3px;top:431.8px" width="10" height="10" viewBox="-5 -5 10 10" fill="none" stroke="#2b7de9" stroke-width="1.100" stroke-linecap="round"><path d="M-3.300 0V-.9a3.300 3.300 0 0 1 6.600 0V0"/><rect x="-4.300" y="-1.100" width="2" height="3.300" rx=".9" fill="#2b7de9" stroke="none"/><rect x="2.300" y="-1.100" width="2" height="3.300" rx=".9" fill="#2b7de9" stroke="none"/><path d="M3.400 2.100c0 1.200-.9 1.900-2.200 1.900" stroke-width=".9"/><rect x="-.2" y="3.200" width="2" height="1.500" rx=".7" fill="#2b7de9" stroke="none"/></svg>
<div style="position:absolute;top:426.20px;line-height:20px;font-size:7.5px;font-weight:700;color:#bdbdbd;white-space:nowrap;left:817.10px;">11:25</div>
<svg style="left:210.0px;top:466.3px" width="12" height="14" viewBox="0 0 12 14"><path d="M2.600 5.700C2.500 9 5.300 11.800 9.200 11.700" fill="none" stroke="#1bb38a" stroke-width="2.5" stroke-linecap="round"/><ellipse cx="3.200" cy="5.700" rx="1.900" ry="1.750" fill="#1bb38a" transform="rotate(-20 3.200 5.700)"/><ellipse cx="9.100" cy="11.300" rx="1.950" ry="1.700" fill="#1bb38a" transform="rotate(-15 9.100 11.300)"/><path d="M8 2.300v4.600M6.400 5.500L8 7.200 9.600 5.500" fill="none" stroke="#1bb38a" stroke-width="1.300" stroke-linecap="round" stroke-linejoin="round"/></svg>
<div style="position:absolute;left:230.50px;top:463.70px;line-height:20px;font-size:8.8px;font-weight:700;color:#3a3a3a;white-space:nowrap;letter-spacing:-0.039px">Blandine Béraud-Sudreau</div>
<div style="position:absolute;left:340.50px;top:463.70px;line-height:20px;font-size:8.8px;font-weight:400;color:#1bb38a;white-space:nowrap;letter-spacing:0.258px">is in call with</div>
<div style="position:absolute;left:396.30px;top:463.70px;line-height:20px;font-size:8.8px;font-weight:700;color:#3a3a3a;white-space:nowrap;letter-spacing:0.185px">Victor Ift</div>
<svg style="left:438.5px;top:468.4px" width="33.1" height="13" viewBox="0 0 33.1 13"><rect x=".5" y=".5" width="32.1" height="11.400" rx="3.200" fill="#fff" stroke="#e8e8e8"/></svg>
<div style="position:absolute;top:463.60px;line-height:20px;font-size:7.3px;font-weight:400;color:#a6a6a6;white-space:nowrap;left:255.05px;width:400px;text-align:center;">2m 20s</div>
<div style="position:absolute;top:463.70px;line-height:20px;font-size:8.1px;font-weight:400;color:#b8b8b8;white-space:nowrap;left:520.30px;">via</div>
<svg style="left:538.6px;top:466.1px" width="16" height="16" viewBox="-8 -8 16 16"><circle r="7.600" fill="#fff" stroke="#e9e9e9" stroke-width=".8"/><circle r="6.700" fill="none" stroke="#c33" stroke-width=".6" opacity=".13"/><clipPath id="fc546_474"><circle r="5.650"/></clipPath><g clip-path="url(#fc546_474)"><rect x="-6" y="-6" width="3.900" height="12" fill="#2438b0"/><rect x="-2.100" y="-6" width="4.200" height="12" fill="#fff"/><rect x="2.100" y="-6" width="3.900" height="12" fill="#e8222e"/></g></svg>
<div style="position:absolute;left:557.80px;top:463.70px;line-height:20px;font-size:7.6px;font-weight:700;color:#686868;white-space:nowrap;letter-spacing:-0.146px">Aircall Paris - Support</div>
<div style="position:absolute;left:744px;top:463.3px;width:60px;height:21px;background:#fff;border:1px solid #dedede;border-radius:3.500px;box-shadow:0 1.500px 3px rgba(0,0,0,.07)"></div>
<div style="position:absolute;top:464.10px;line-height:20px;font-size:8.2px;font-weight:700;color:#2b7de9;white-space:nowrap;left:752.20px;">COACH</div>
<svg style="left:787.3px;top:470.3px" width="10" height="10" viewBox="-5 -5 10 10" fill="none" stroke="#2b7de9" stroke-width="1.100" stroke-linecap="round"><path d="M-3.300 0V-.9a3.300 3.300 0 0 1 6.600 0V0"/><rect x="-4.300" y="-1.100" width="2" height="3.300" rx=".9" fill="#2b7de9" stroke="none"/><rect x="2.300" y="-1.100" width="2" height="3.300" rx=".9" fill="#2b7de9" stroke="none"/><path d="M3.400 2.100c0 1.200-.9 1.900-2.200 1.900" stroke-width=".9"/><rect x="-.2" y="3.200" width="2" height="1.500" rx=".7" fill="#2b7de9" stroke="none"/></svg>
<div style="position:absolute;top:463.70px;line-height:20px;font-size:7.5px;font-weight:700;color:#bdbdbd;white-space:nowrap;left:817.10px;">11:24</div>
<svg style="left:210.0px;top:502.8px" width="12" height="14" viewBox="0 0 12 14"><path d="M2.600 5.700C2.500 9 5.300 11.800 9.200 11.700" fill="none" stroke="#c0c0c0" stroke-width="1.9" stroke-linecap="round"/><ellipse cx="3.200" cy="5.700" rx="1.900" ry="1.750" fill="#c0c0c0" transform="rotate(-20 3.200 5.700)"/><ellipse cx="9.100" cy="11.300" rx="1.950" ry="1.700" fill="#c0c0c0" transform="rotate(-15 9.100 11.300)"/><path d="M8 7.100V2.600M6.400 4L8 2.300 9.600 4" fill="none" stroke="#ff4a00" stroke-width="1.300" stroke-linecap="round" stroke-linejoin="round"/></svg>
<div style="position:absolute;left:230.50px;top:501.20px;line-height:20px;font-size:8.8px;font-weight:700;color:#3a3a3a;white-space:nowrap;letter-spacing:0.042px">Christell Cherenfant</div>
<div style="position:absolute;left:318.20px;top:501.20px;line-height:20px;font-size:8.8px;font-weight:400;color:#4a4a4a;white-space:nowrap;letter-spacing:0.165px">hung up</div>
<div style="position:absolute;left:353.80px;top:501.20px;line-height:20px;font-size:8.8px;font-weight:700;color:#3a3a3a;white-space:nowrap;letter-spacing:0.114px">+95 47 894 037</div>
<svg style="left:421.7px;top:504.4px" width="15.5" height="13" viewBox="0 0 15.5 13"><rect x=".5" y=".5" width="14.5" height="11.400" rx="3.200" fill="#fff" stroke="#e8e8e8"/></svg>
<div style="position:absolute;top:501.10px;line-height:20px;font-size:7.3px;font-weight:400;color:#a6a6a6;white-space:nowrap;left:229.45px;width:400px;text-align:center;">3s</div>
<div style="position:absolute;top:501.20px;line-height:20px;font-size:8.1px;font-weight:400;color:#b8b8b8;white-space:nowrap;left:527.30px;">via</div>
<svg style="left:545.6px;top:502.6px" width="16" height="16" viewBox="-8 -8 16 16"><circle r="7.600" fill="#fff" stroke="#e9e9e9" stroke-width=".8"/><circle r="6.700" fill="none" stroke="#c33" stroke-width=".6" opacity=".13"/><clipPath id="fc553_510"><circle r="5.650"/></clipPath><g clip-path="url(#fc553_510)"><rect x="-6" y="-6" width="12" height="12" fill="#fff"/><rect x="-6" y="-5.40" width="12" height=".83" fill="#dc3c50"/><rect x="-6" y="-3.74" width="12" height=".83" fill="#dc3c50"/><rect x="-6" y="-2.08" width="12" height=".83" fill="#dc3c50"/><rect x="-6" y="-0.42" width="12" height=".83" fill="#dc3c50"/><rect x="-6" y="1.24" width="12" height=".83" fill="#dc3c50"/><rect x="-6" y="2.90" width="12" height=".83" fill="#dc3c50"/><rect x="-6" y="4.56" width="12" height=".83" fill="#dc3c50"/><rect x="-6" y="-6" width="5.800" height="5.400" fill="#3f4b8a"/></g></svg>
<div style="position:absolute;left:564.80px;top:501.20px;line-height:20px;font-size:7.6px;font-weight:700;color:#686868;white-space:nowrap;letter-spacing:-0.097px">Christell Cherenfant</div>
<div style="position:absolute;top:501.20px;line-height:20px;font-size:7.5px;font-weight:700;color:#bdbdbd;white-space:nowrap;left:817.10px;">11:26</div>
<svg style="left:210.0px;top:539.3px" width="12" height="14" viewBox="0 0 12 14"><path d="M2.600 5.700C2.500 9 5.300 11.800 9.200 11.700" fill="none" stroke="#c0c0c0" stroke-width="1.9" stroke-linecap="round"/><ellipse cx="3.200" cy="5.700" rx="1.900" ry="1.750" fill="#c0c0c0" transform="rotate(-20 3.200 5.700)"/><ellipse cx="9.100" cy="11.300" rx="1.950" ry="1.700" fill="#c0c0c0" transform="rotate(-15 9.100 11.300)"/><path d="M8 7.100V2.600M6.400 4L8 2.300 9.600 4" fill="none" stroke="#04b889" stroke-width="1.300" stroke-linecap="round" stroke-linejoin="round"/></svg>
<div style="position:absolute;left:230.50px;top:536.70px;line-height:20px;font-size:8.8px;font-weight:700;color:#3a3a3a;white-space:nowrap;letter-spacing:0.042px">Christell Cherenfant</div>
<div style="position:absolute;left:318.20px;top:536.70px;line-height:20px;font-size:8.8px;font-weight:400;color:#4a4a4a;white-space:nowrap;letter-spacing:0.201px">called</div>
<div style="position:absolute;left:345.00px;top:536.70px;line-height:20px;font-size:8.8px;font-weight:700;color:#3a3a3a;white-space:nowrap;letter-spacing:0.244px">+1 973-229-8328</div>
<svg style="left:420.7px;top:541.4px" width="20.3" height="13" viewBox="0 0 20.3 13"><rect x=".5" y=".5" width="19.3" height="11.400" rx="3.200" fill="#fff" stroke="#e8e8e8"/></svg>
<div style="position:absolute;top:536.60px;line-height:20px;font-size:7.3px;font-weight:400;color:#a6a6a6;white-space:nowrap;left:230.85px;width:400px;text-align:center;">28s</div>
<div style="position:absolute;top:536.70px;line-height:20px;font-size:8.1px;font-weight:400;color:#b8b8b8;white-space:nowrap;left:527.30px;">via</div>
<svg style="left:545.6px;top:539.1px" width="16" height="16" viewBox="-8 -8 16 16"><circle r="7.600" fill="#fff" stroke="#e9e9e9" stroke-width=".8"/><circle r="6.700" fill="none" stroke="#c33" stroke-width=".6" opacity=".13"/><clipPath id="fc553_547"><circle r="5.650"/></clipPath><g clip-path="url(#fc553_547)"><rect x="-6" y="-6" width="12" height="12" fill="#fff"/><rect x="-6" y="-5.40" width="12" height=".83" fill="#dc3c50"/><rect x="-6" y="-3.74" width="12" height=".83" fill="#dc3c50"/><rect x="-6" y="-2.08" width="12" height=".83" fill="#dc3c50"/><rect x="-6" y="-0.42" width="12" height=".83" fill="#dc3c50"/><rect x="-6" y="1.24" width="12" height=".83" fill="#dc3c50"/><rect x="-6" y="2.90" width="12" height=".83" fill="#dc3c50"/><rect x="-6" y="4.56" width="12" height=".83" fill="#dc3c50"/><rect x="-6" y="-6" width="5.800" height="5.400" fill="#3f4b8a"/></g></svg>
<div style="position:absolute;left:564.80px;top:536.70px;line-height:20px;font-size:7.6px;font-weight:700;color:#686868;white-space:nowrap;letter-spacing:-0.097px">Christell Cherenfant</div>
<div style="position:absolute;left:775px;top:536.0999999999999px;width:28.5px;height:21.2px;background:#fff;border:1px solid #dedede;border-radius:3.500px;box-shadow:0 1.500px 3px rgba(0,0,0,.07)"></div>
<svg style="left:786.500px;top:543.3px" width="6" height="7" viewBox="0 0 6 7"><path d="M.3.200L5.800 3.500.3 6.800z" fill="#04b889"/></svg>
<div style="position:absolute;top:536.70px;line-height:20px;font-size:7.5px;font-weight:700;color:#bdbdbd;white-space:nowrap;left:817.10px;">11:25</div>
<div style="position:absolute;left:869px;top:182px;width:155px;height:377px;background:#fff"></div>
<div style="position:absolute;left:869px;top:182px;width:155px;height:1px;background:#f0f0f0"></div>
<svg style="left:880.8px;top:197.5px" width="88" height="1" viewBox="0 0 88 1"><path d="M0 .5H88" stroke="#e2e2e2" stroke-width="1" stroke-dasharray="1 4.69" fill="none"/></svg>
<div style="position:absolute;left:967.3px;top:190.2px;width:58.700000000000045px;height:14.6px;background:#fd7e2b;border-radius:7.300px 0 0 7.300px"></div><div style="position:absolute;top:187.60px;line-height:20px;font-size:6.6px;font-weight:700;color:#fff;white-space:nowrap;letter-spacing:0.75px;left:614.80px;width:400px;text-align:right;margin-left:.75px;-webkit-text-stroke:.25px #fff;">8 IN CALL</div>
<svg style="left:881.0px;top:217.0px" width="20" height="16" viewBox="-8 -8 20 16"><circle r="7.700" fill="#fff" stroke="#e6e6e6" stroke-width=".8"/><circle r="6.900" fill="none" stroke="#7bd35b" stroke-width=".7" opacity=".3"/><circle r="6.200" fill="#7bd35b"/><text x="-.1" y="2.400" font-size="6.800" font-weight="700" fill="#fff" text-anchor="middle" font-family="Liberation Sans, sans-serif" letter-spacing="-.3">AG</text><circle cx="7.700" cy=".9" r="1.500" fill="#fd7e2b"/></svg>
<div style="position:absolute;left:904px;top:216.00px;line-height:20px;font-size:8.35px;white-space:nowrap;color:#7c7c7c;letter-spacing:-0.154px"><b style="color:#5a5a5a">Auguste</b> Guerlay</div>
<svg style="left:880.8px;top:238px" width="143.5" height="1" viewBox="0 0 143.5 1"><path d="M0 .5H143.5" stroke="#e4e4e4" stroke-width="1" stroke-dasharray="1 4.69" fill="none"/></svg>
<svg style="left:881.0px;top:244.8px" width="20" height="16" viewBox="-8 -8 20 16"><circle r="7.700" fill="#fff" stroke="#e6e6e6" stroke-width=".8"/><circle r="6.900" fill="none" stroke="#e8559f" stroke-width=".7" opacity=".3"/><circle r="6.200" fill="#e8559f"/><text x="-.1" y="2.400" font-size="6.800" font-weight="700" fill="#fff" text-anchor="middle" font-family="Liberation Sans, sans-serif" letter-spacing="-.3">BB</text><circle cx="7.700" cy=".9" r="1.500" fill="#fd7e2b"/></svg>
<div style="position:absolute;left:904px;top:243.80px;line-height:20px;font-size:8.35px;white-space:nowrap;color:#7c7c7c;letter-spacing:-0.075px"><b style="color:#5a5a5a">Blandine</b> Béraud-Sudreau</div>
<svg style="left:880.8px;top:266px" width="143.5" height="1" viewBox="0 0 143.5 1"><path d="M0 .5H143.5" stroke="#e4e4e4" stroke-width="1" stroke-dasharray="1 4.69" fill="none"/></svg>
<svg style="left:881.0px;top:272.6px" width="20" height="16" viewBox="-8 -8 20 16"><circle r="7.700" fill="#fff" stroke="#e6e6e6" stroke-width=".8"/><circle r="6.900" fill="none" stroke="#e08465" stroke-width=".7" opacity=".3"/><circle r="6.200" fill="#e08465"/><text x="-.1" y="2.400" font-size="6.800" font-weight="700" fill="#fff" text-anchor="middle" font-family="Liberation Sans, sans-serif" letter-spacing="-.3">BR</text><circle cx="7.700" cy=".9" r="1.500" fill="#fd7e2b"/></svg>
<div style="position:absolute;left:904px;top:271.60px;line-height:20px;font-size:8.35px;white-space:nowrap;color:#7c7c7c;letter-spacing:-0.241px"><b style="color:#5a5a5a">Borja</b> Ruiz</div>
<svg style="left:880.8px;top:294px" width="143.5" height="1" viewBox="0 0 143.5 1"><path d="M0 .5H143.5" stroke="#e4e4e4" stroke-width="1" stroke-dasharray="1 4.69" fill="none"/></svg>
<svg style="left:881.0px;top:300.4px" width="20" height="16" viewBox="-8 -8 20 16"><circle r="7.700" fill="#fff" stroke="#e6e6e6" stroke-width=".8"/><circle r="6.900" fill="none" stroke="#e0555f" stroke-width=".7" opacity=".3"/><circle r="6.200" fill="#e0555f"/><text x="-.1" y="2.400" font-size="6.800" font-weight="700" fill="#fff" text-anchor="middle" font-family="Liberation Sans, sans-serif" letter-spacing="-.3">EB</text><circle cx="7.700" cy=".9" r="1.500" fill="#fd7e2b"/></svg>
<div style="position:absolute;left:904px;top:299.40px;line-height:20px;font-size:8.35px;white-space:nowrap;color:#7c7c7c;letter-spacing:-0.104px"><b style="color:#5a5a5a">Elizabeth</b> Beggs</div>
<svg style="left:880.8px;top:322px" width="143.5" height="1" viewBox="0 0 143.5 1"><path d="M0 .5H143.5" stroke="#e4e4e4" stroke-width="1" stroke-dasharray="1 4.69" fill="none"/></svg>
<svg style="left:881.0px;top:328.2px" width="20" height="16" viewBox="-8 -8 20 16"><circle r="7.700" fill="#fff" stroke="#e6e6e6" stroke-width=".8"/><circle r="6.900" fill="none" stroke="#6dd34f" stroke-width=".7" opacity=".3"/><circle r="6.200" fill="#6dd34f"/><text x="-.1" y="2.400" font-size="6.800" font-weight="700" fill="#fff" text-anchor="middle" font-family="Liberation Sans, sans-serif" letter-spacing="-.3">GP</text><circle cx="7.700" cy=".9" r="1.500" fill="#fd7e2b"/></svg>
<div style="position:absolute;left:904px;top:327.20px;line-height:20px;font-size:8.35px;white-space:nowrap;color:#7c7c7c;letter-spacing:0.083px"><b style="color:#5a5a5a">Garon</b> Potter</div>
<svg style="left:880.8px;top:350px" width="143.5" height="1" viewBox="0 0 143.5 1"><path d="M0 .5H143.5" stroke="#e4e4e4" stroke-width="1" stroke-dasharray="1 4.69" fill="none"/></svg>
<svg style="left:881.0px;top:356.0px" width="20" height="16" viewBox="-8 -8 20 16"><circle r="7.700" fill="#fff" stroke="#e6e6e6" stroke-width=".8"/><circle r="6.900" fill="none" stroke="#46bedc" stroke-width=".7" opacity=".3"/><circle r="6.200" fill="#46bedc"/><text x="-.1" y="2.400" font-size="6.800" font-weight="700" fill="#fff" text-anchor="middle" font-family="Liberation Sans, sans-serif" letter-spacing="-.3">IM</text><circle cx="7.700" cy=".9" r="1.500" fill="#fd7e2b"/></svg>
<div style="position:absolute;left:904px;top:355.00px;line-height:20px;font-size:8.35px;white-space:nowrap;color:#7c7c7c;letter-spacing:-0.045px"><b style="color:#5a5a5a">Inès</b> Malerba</div>
<svg style="left:880.8px;top:377px" width="143.5" height="1" viewBox="0 0 143.5 1"><path d="M0 .5H143.5" stroke="#e4e4e4" stroke-width="1" stroke-dasharray="1 4.69" fill="none"/></svg>
<svg style="left:881.0px;top:383.8px" width="20" height="16" viewBox="-8 -8 20 16"><circle r="7.700" fill="#fff" stroke="#e6e6e6" stroke-width=".8"/><circle r="6.900" fill="none" stroke="#7b4fd6" stroke-width=".7" opacity=".3"/><circle r="6.200" fill="#7b4fd6"/><text x="-.1" y="2.400" font-size="6.800" font-weight="700" fill="#fff" text-anchor="middle" font-family="Liberation Sans, sans-serif" letter-spacing="-.3">JC</text><circle cx="7.700" cy=".9" r="1.500" fill="#fd7e2b"/></svg>
<div style="position:absolute;left:904px;top:382.80px;line-height:20px;font-size:8.35px;white-space:nowrap;color:#7c7c7c;letter-spacing:-0.368px"><b style="color:#5a5a5a">Jules</b> Cohen</div>
<svg style="left:880.8px;top:405px" width="143.5" height="1" viewBox="0 0 143.5 1"><path d="M0 .5H143.5" stroke="#e4e4e4" stroke-width="1" stroke-dasharray="1 4.69" fill="none"/></svg>
<svg style="left:881.0px;top:411.6px" width="20" height="16" viewBox="-8 -8 20 16"><circle r="7.700" fill="#fff" stroke="#e6e6e6" stroke-width=".8"/><circle r="6.900" fill="none" stroke="#3ecfae" stroke-width=".7" opacity=".3"/><circle r="6.200" fill="#3ecfae"/><text x="-.1" y="2.400" font-size="6.800" font-weight="700" fill="#fff" text-anchor="middle" font-family="Liberation Sans, sans-serif" letter-spacing="-.3">MC</text><circle cx="7.700" cy=".9" r="1.500" fill="#fd7e2b"/></svg>
<div style="position:absolute;left:904px;top:410.60px;line-height:20px;font-size:8.35px;white-space:nowrap;color:#7c7c7c;letter-spacing:-0.172px"><b style="color:#5a5a5a">Megan</b> Cull</div>
<svg style="left:880.8px;top:443.5px" width="46" height="1" viewBox="0 0 46 1"><path d="M0 .5H46" stroke="#e2e2e2" stroke-width="1" stroke-dasharray="1 4.69" fill="none"/></svg>
<div style="position:absolute;left:925.1px;top:436.8px;width:100.89999999999998px;height:14.6px;background:#fdb515;border-radius:7.300px 0 0 7.300px"></div><div style="position:absolute;top:434.20px;line-height:20px;font-size:6.6px;font-weight:700;color:#fff;white-space:nowrap;letter-spacing:0.75px;left:614.80px;width:400px;text-align:right;margin-left:.75px;-webkit-text-stroke:.25px #fff;">1 AFTER CALL WORK</div>
<svg style="left:881.0px;top:462.8px" width="20" height="16" viewBox="-8 -8 20 16"><circle r="7.700" fill="#fff" stroke="#e6e6e6" stroke-width=".8"/><circle r="6.900" fill="none" stroke="#b455d8" stroke-width=".7" opacity=".3"/><circle r="6.200" fill="#b455d8"/><text x="-.1" y="2.400" font-size="6.800" font-weight="700" fill="#fff" text-anchor="middle" font-family="Liberation Sans, sans-serif" letter-spacing="-.3">CL</text><circle cx="7.700" cy=".9" r="1.500" fill="#fdb515"/></svg>
<div style="position:absolute;left:904px;top:461.80px;line-height:20px;font-size:8.35px;white-space:nowrap;color:#7c7c7c;letter-spacing:-0.154px"><b style="color:#5a5a5a">Celine</b> Le Gourrier</div>
<svg style="left:880.8px;top:495px" width="66" height="1" viewBox="0 0 66 1"><path d="M0 .5H66" stroke="#e2e2e2" stroke-width="1" stroke-dasharray="1 4.69" fill="none"/></svg>
<div style="position:absolute;left:945.6px;top:487.9px;width:80.39999999999998px;height:14.6px;background:#04b889;border-radius:7.300px 0 0 7.300px"></div><div style="position:absolute;top:485.30px;line-height:20px;font-size:6.6px;font-weight:700;color:#fff;white-space:nowrap;letter-spacing:0.75px;left:614.80px;width:400px;text-align:right;margin-left:.75px;-webkit-text-stroke:.25px #fff;">144 AVAILABLE</div>
<svg style="left:881.3px;top:513.7px" width="20" height="16" viewBox="-8 -8 20 16"><circle r="7.700" fill="#fff" stroke="#e4e4e4" stroke-width=".8"/><clipPath id="pha"><circle r="6.200"/></clipPath><g clip-path="url(#pha)"><rect x="-7" y="-7" width="14" height="14" fill="#f4f4f3"/><path d="M-4.300 6.500c.2-3.500.3-8.300 1.900-10.200 1.300-1.600 3.700-1.500 4.700.2 1.300 2.300 1.300 6.800 1.800 10z" fill="#4a4a4a"/><ellipse cx=".3" cy="-1" rx="1.600" ry="2.200" fill="#d8d8d8"/><path d="M-2.800 7c.3-2.500 1.400-3.500 3.100-3.500S3.100 4.500 3.400 7z" fill="#6a6a6a"/></g><circle cx="7.700" cy=".9" r="1.300" fill="#04b889"/></svg>
<div style="position:absolute;left:904px;top:513.60px;line-height:20px;font-size:8.35px;white-space:nowrap;color:#7c7c7c;letter-spacing:-0.156px"><b style="color:#5a5a5a">Adi</b> Schnall</div>
<svg style="left:1007.2px;top:517.4px" width="8" height="12" viewBox="0 0 8 12" fill="none" stroke="#c2c2c2" stroke-width="1"><rect x=".75" y=".8" width="6.500" height="10.400" rx="1.300"/><path d="M.8 2.100h6.400M.8 8.300h6.400M4 8.300v2.900" stroke-width=".8"/></svg>
<svg style="left:880.8px;top:536px" width="143.5" height="1" viewBox="0 0 143.5 1"><path d="M0 .5H143.5" stroke="#e4e4e4" stroke-width="1" stroke-dasharray="1 4.69" fill="none"/></svg>
<svg style="left:881.3px;top:541.5px" width="20" height="16" viewBox="-8 -8 20 16"><circle r="7.700" fill="#fff" stroke="#e4e4e4" stroke-width=".8"/><clipPath id="phb"><circle r="6.200"/></clipPath><g clip-path="url(#phb)"><rect x="-7" y="-7" width="14" height="14" fill="#f0efee"/><rect x="1.500" y="-7" width="6" height="14" fill="#e6e6e6"/><circle cx=".2" cy="-3.600" r="1.900" fill="#cfa993"/><path d="M-1.500-4.600c.4-1.500 3-1.600 3.500 0-.8-.5-2.600-.6-3.500 0z" fill="#9a8d84"/><path d="M-4.600 7c-.5-4.600 .8-8.200 4.800-8.200S5 2.400 4.400 7z" fill="#d0141f"/><path d="M-.7-1.300l.9 1.700.9-1.700z" fill="#f3eeee"/><path d="M-4.300 3.200c2.500 1.200 5.800 1.200 8.200 0" stroke="#a80f18" stroke-width=".8" fill="none"/></g><circle cx="7.700" cy=".9" r="1.300" fill="#04b889"/></svg>
<div style="position:absolute;left:904px;top:541.00px;line-height:20px;font-size:8.35px;white-space:nowrap;color:#7c7c7c;letter-spacing:-0.106px"><b style="color:#5a5a5a">Adrien</b> Bordet</div>
<svg style="left:1007.2px;top:544.9px" width="8" height="12" viewBox="0 0 8 12" fill="none" stroke="#c2c2c2" stroke-width="1"><rect x=".75" y=".8" width="6.500" height="10.400" rx="1.300"/><path d="M.8 2.100h6.400M.8 8.300h6.400M4 8.300v2.900" stroke-width=".8"/></svg>
</div></body></html>
